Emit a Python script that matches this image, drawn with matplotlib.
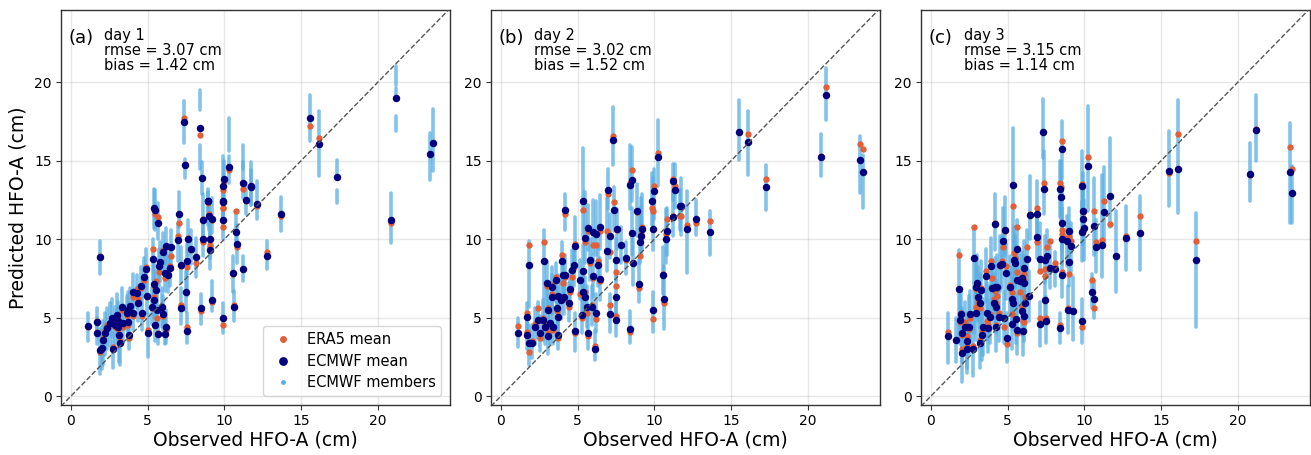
import matplotlib
matplotlib.use("Agg")
import matplotlib.pyplot as plt
from matplotlib.lines import Line2D

# values read off the figure, one column of members per observed value
# --- day 1 ---
obs_a = [1.13,1.67,1.72,1.89,1.89,2.0,2.11,2.22,2.33,2.54,
         2.65,2.87,2.98,3.09,3.3,3.2,2.76,3.09,3.37,3.63,
         3.74,3.85,3.74,3.78,3.15,4.02,4.02,4.28,4.39,4.54,
         4.61,4.98,4.78,4.89,5.37,5.41,5.54,5.26,5.43,5.59,
         5.91,6.02,6.2,5.5,5.0,5.67,6.15,7.54,7.15,7.5,
         6.02,6.17,6.5,5.8,5.76,6.13,6.46,6.35,7.15,7.54,
         7.85,8.15,7.61,6.96,7.02,5.5,5.41,5.67,8.59,8.91,
         9.02,9.17,8.59,9.09,9.09,9.93,9.93,10.76,10.8,10.54,
         11.24,10.65,9.22,8.46,9.89,7.35,8.43,7.41,8.57,8.9,
         10.28,10.0,9.9,11.2,11.7,11.4,11.74,12.11,12.76,13.67,
         9.9,15.56,16.15,17.32,20.85,21.2,23.41,23.56]
ecmwf_a = [4.45,4.0,4.7,8.87,2.93,3.04,3.57,4.0,4.32,4.64,
           4.96,4.53,5.17,4.43,5.7,3.36,2.98,4.81,4.64,5.28,
           5.49,5.74,4.74,3.89,3.89,5.28,6.66,6.55,5.91,7.02,
           5.28,6.38,7.57,8.09,8.72,7.13,6.77,5.7,6.13,5.49,
           5.7,5.23,4.4,4.51,4.02,3.96,3.96,4.17,5.62,6.66,
           9.15,9.57,9.47,8.57,8.26,7.87,8.15,7.72,8.34,8.6,
           9.4,8.85,10.02,9.96,11.6,11.87,11.98,11.04,11.23,12.4,
           11.49,11.3,10.0,10.0,9.3,11.23,12.34,10.47,9.7,7.81,
           8.09,5.7,6.13,5.6,4.96,17.47,17.1,14.7,13.9,12.4,
           14.6,13.8,13.4,13.6,13.3,12.5,13.36,12.23,8.94,11.62,
           12.4,17.72,16.08,13.94,11.21,19.0,15.45,16.15]
era5_a = [4.4,4.1,4.8,8.95,2.8,3.0,3.7,4.2,4.5,4.5,
          4.8,4.4,5.0,4.3,5.5,3.5,3.1,4.9,4.4,5.1,
          5.3,5.5,4.5,3.7,3.8,5.1,6.3,6.8,6.2,6.9,
          5.1,6.3,7.4,8.2,9.4,7.0,7.3,5.6,6.3,5.0,
          5.6,5.1,4.2,4.5,4.2,4.0,4.0,4.4,5.8,6.6,
          9.3,9.5,8.9,8.5,7.9,7.5,8.3,7.8,8.3,8.2,
          9.3,8.45,10.1,10.2,11.0,11.6,11.9,11.4,11.3,12.4,
          11.6,11.2,9.8,9.6,9.5,10.8,12.0,11.8,9.5,7.8,
          8.1,5.8,6.0,5.4,4.5,17.74,16.66,14.8,13.9,12.3,
          14.4,13.7,13.1,13.2,13.3,12.4,13.4,12.1,9.15,11.5,
          12.0,17.2,16.45,13.94,11.02,19.0,15.45,16.15]
low_a = [3.5,3.3,3.9,7.8,1.4,1.7,2.0,2.6,3.0,3.2,
         3.8,3.3,3.9,3.2,4.6,2.0,1.8,3.5,3.4,4.2,
         4.4,4.7,3.6,3.0,2.2,4.2,5.6,5.6,4.8,5.8,
         4.2,5.3,6.4,6.9,7.4,6.0,5.6,4.6,5.0,4.4,
         4.4,4.2,3.4,3.5,2.5,3.3,3.3,3.4,4.6,5.4,
         7.9,8.4,8.3,7.3,7.0,6.7,7.0,6.6,7.2,6.4,
         8.4,7.6,9.0,8.6,10.8,10.6,10.7,10.0,10.2,10.9,
         10.6,10.4,8.9,8.8,8.1,10.0,11.2,9.6,8.5,6.6,
         7.3,4.8,5.4,4.6,4.0,16.1,14.5,13.9,12.9,11.5,
         13.6,12.3,12.2,12.6,12.2,11.6,12.2,11.3,8.1,10.5,
         11.3,16.23,14.0,14.0,9.74,19.0,13.79,14.32]
high_a = [5.3,5.0,5.6,9.85,4.3,4.4,4.8,5.3,5.6,5.9,
          6.2,5.7,6.5,5.6,6.9,4.6,4.0,6.0,5.8,6.4,
          6.6,6.9,5.8,5.0,5.0,6.5,7.8,7.7,7.0,8.2,
          6.4,7.5,8.8,9.4,10.0,8.4,8.0,6.9,7.3,6.8,
          6.9,6.4,5.5,5.8,5.2,5.0,5.0,5.3,6.9,8.0,
          10.4,10.7,10.6,9.8,9.4,9.1,9.4,8.9,9.5,9.7,
          10.6,10.1,11.2,11.0,13.0,13.1,13.2,12.3,12.9,13.0,
          12.5,12.6,11.0,11.2,10.4,12.4,13.6,11.8,10.9,8.9,
          8.9,6.7,7.3,6.5,5.9,18.8,16.0,15.1,14.9,13.2,
          15.3,15.0,15.3,14.9,14.4,13.6,14.9,13.7,9.9,12.7,
          13.4,19.2,18.15,15.06,12.94,19.64,16.77,18.26]
# day 1 columns that are split in two or three pieces
extra_x_a = [8.43,10.28,17.32,21.2,21.2,11.24]
extra_low_a = [18.25,15.6,12.3,19.85,16.87,14.5]
extra_high_a = [19.5,17.7,13.15,21.0,17.83,16.0]

# --- day 2 ---
obs_b = [1.11,1.85,2.83,1.67,1.67,1.85,2.0,2.22,2.43,2.54,
         2.76,2.87,3.09,3.2,3.09,3.37,3.63,3.74,3.74,3.02,
         3.3,3.59,3.3,3.7,3.91,4.11,4.02,4.17,3.96,4.17,
         4.5,4.46,4.61,4.76,4.85,5.15,5.37,5.5,5.65,5.8,
         5.37,5.48,5.59,5.91,6.02,6.17,6.46,6.35,6.02,6.2,
         6.46,4.83,5.26,5.65,6.13,7.11,6.93,7.11,6.98,7.33,
         7.39,7.5,7.48,7.5,7.59,7.8,8.15,8.41,8.59,8.57,
         8.41,8.52,8.89,9.07,9.11,8.98,9.2,9.89,9.93,10.0,
         9.87,10.26,10.54,10.63,10.76,10.8,11.2,11.35,11.24,11.67,
         5.37,11.74,12.11,12.74,13.65,15.54,16.13,17.28,20.83,21.2,
         23.39,23.56]
ecmwf_b = [4.02,8.36,8.6,5.06,3.91,3.36,3.36,4.43,4.85,4.0,
           4.85,4.43,5.49,4.64,3.83,4.43,5.6,5.06,3.89,7.19,
           6.94,7.4,6.34,6.4,6.09,6.34,7.72,7.72,8.6,11.83,
           6.81,5.96,8.04,8.32,9.53,7.4,8.0,10.04,10.7,8.64,
           6.6,6.34,5.7,5.7,7.62,5.32,7.45,8.36,10.43,10.34,
           10.77,4.13,5.17,4.0,3.02,5.23,9.23,10.17,13.15,16.34,
           11.87,8.68,6.3,4.85,10.64,9.62,8.77,4.28,8.49,10.38,
           13.47,13.79,11.79,9.79,10.21,7.13,10.64,5.47,10.66,13.09,
           12.4,15.23,7.72,6.21,10.0,10.49,11.38,13.11,13.68,12.13,
           12.4,12.09,10.64,11.3,10.47,16.83,16.17,13.3,15.26,19.19,
           15.02,14.28]
era5_b = [4.49,9.6,9.8,5.3,4.1,2.83,3.5,4.6,5.6,3.7,
          5.0,4.6,5.6,4.4,4.0,4.2,5.4,5.1,3.7,7.0,
          7.1,7.6,6.5,6.3,6.3,6.2,7.2,7.6,9.0,11.6,
          6.6,5.7,7.6,8.2,9.7,6.5,8.0,9.8,10.5,8.5,
          6.4,6.6,5.3,5.8,7.5,4.9,7.3,8.6,9.6,9.6,
          10.5,4.0,5.0,3.8,3.2,5.8,10.5,9.2,12.9,16.6,
          12.36,7.9,7.0,5.1,10.6,9.6,8.7,4.1,8.5,10.4,
          13.6,14.4,11.7,8.9,10.3,6.9,10.8,4.9,11.8,13.4,
          12.0,15.5,7.8,5.9,10.3,11.3,11.5,13.4,13.8,11.5,
          11.83,11.49,10.9,11.02,11.17,16.83,16.68,13.83,15.32,19.7,
          16.04,15.74]
low_b = [3.15,5.7,5.7,3.9,3.0,2.0,2.4,3.3,3.7,2.9,
         3.6,3.3,4.3,3.4,2.7,3.3,4.4,3.9,3.0,5.8,
         5.7,6.0,5.2,5.2,4.9,5.2,6.2,6.5,7.3,10.6,
         5.6,4.8,6.8,7.0,8.3,6.2,6.6,8.5,9.3,7.4,
         5.3,5.1,4.4,4.5,6.3,4.1,6.1,7.0,9.1,9.0,
         9.4,2.9,4.0,3.0,2.3,4.1,8.0,8.8,11.9,14.7,
         10.5,7.4,5.0,3.8,9.4,8.5,7.8,3.4,7.1,9.0,
         11.9,12.4,10.2,8.5,8.9,6.0,9.3,4.1,9.3,11.3,
         10.9,13.4,6.5,4.3,8.5,9.0,10.2,12.0,12.5,10.6,
         10.2,10.28,7.83,10.28,9.0,15.06,14.1,11.87,14.0,17.62,
         12.94,11.98]
high_b = [4.96,9.85,10.6,5.9,5.0,4.5,4.5,5.6,6.0,5.1,
          6.1,5.6,6.9,6.0,5.0,5.7,6.9,6.3,5.1,8.6,
          8.2,8.5,7.7,7.7,7.4,7.6,8.9,9.0,9.8,12.9,
          8.0,7.2,9.3,9.6,11.4,8.7,9.6,13.0,12.2,10.0,
          7.9,7.6,7.0,7.0,9.0,6.5,8.8,9.7,12.5,12.4,
          12.8,5.3,6.4,5.2,4.2,6.5,12.6,11.6,14.5,18.4,
          13.3,10.0,7.6,6.0,11.9,10.8,9.8,5.4,10.0,12.0,
          16.0,15.9,13.5,12.0,12.6,8.7,12.9,6.6,13.9,14.5,
          14.2,17.6,9.5,8.3,11.9,12.0,13.0,14.8,14.8,13.1,
          15.8,13.89,13.04,12.51,11.77,18.89,18.15,14.74,16.68,20.9,
          16.55,15.38]

# --- day 3 ---
obs_c = [1.09,1.85,2.8,1.93,1.89,2.0,1.63,2.0,2.22,2.37,
         2.5,2.33,2.76,2.54,2.91,2.98,3.26,3.09,3.2,2.91,
         3.2,3.3,3.41,3.7,3.63,3.85,3.57,3.89,3.96,4.17,
         4.33,4.11,4.24,4.24,4.15,4.83,4.7,4.5,4.61,4.91,
         4.78,4.46,4.93,5.15,5.26,5.37,5.54,5.28,5.59,5.98,
         5.33,5.63,5.41,5.48,6.07,6.28,5.59,5.91,6.07,5.8,
         6.15,5.91,6.07,6.43,6.41,6.93,6.89,7.09,7.37,7.3,
         7.54,7.46,7.76,8.09,7.46,7.48,7.09,8.39,8.52,8.39,
         8.48,8.54,8.57,8.57,8.85,9.0,9.13,9.02,8.96,9.24,
         9.85,9.83,9.91,9.89,9.87,10.22,9.98,10.52,10.63,10.65,
         10.74,11.17,11.28,11.67,12.07,12.7,13.63,15.52,16.09,17.26,
         20.8,21.15,23.37,23.52]
ecmwf_c = [3.81,6.81,8.77,5.23,4.85,2.72,3.57,4.0,4.43,3.53,
           4.43,2.98,2.98,5.21,5.28,7.23,6.77,6.34,5.91,6.98,
           3.36,3.89,4.43,4.32,5.28,5.06,7.66,8.3,6.87,6.98,
           6.98,5.91,5.66,4.43,10.94,10.55,9.89,8.36,8.43,7.87,
           4.96,5.06,3.68,6.98,6.19,5.91,4.91,4.6,4.21,4.17,
           13.47,9.36,8.68,8.47,8.15,8.74,7.4,7.51,7.19,7.3,
           5.91,5.45,5.11,11.55,6.38,11.6,10.11,8.72,13.17,16.85,
           8.94,8.68,8.19,8.11,6.09,4.77,4.62,4.32,7.72,13.21,
           12.66,15.74,11.02,10.0,9.85,10.53,9.53,8.57,5.49,5.45,
           4.77,10.43,11.3,11.81,13.4,14.66,10.7,6.62,6.17,10.85,
           9.49,9.6,11.7,12.72,8.94,10.06,10.38,14.36,14.47,8.66,
           14.15,16.96,14.3,12.94]
era5_c = [4.1,8.96,10.8,5.3,4.7,3.0,3.6,3.9,4.7,3.8,
          4.3,3.2,3.2,5.0,5.7,7.0,6.9,6.0,5.6,6.8,
          3.6,4.1,4.3,4.5,4.8,5.2,8.0,8.6,7.5,6.7,
          6.4,6.2,5.9,4.5,11.0,10.5,9.5,8.3,8.6,8.3,
          4.4,5.3,3.3,7.1,6.6,6.0,4.9,5.2,4.0,4.8,
          12.1,10.8,9.1,8.8,7.8,9.5,7.9,7.6,7.4,6.6,
          6.3,5.7,4.7,11.6,6.4,12.0,9.8,8.0,13.6,16.8,
          9.5,8.1,9.89,8.5,7.68,5.0,5.0,4.5,7.9,13.6,
          13.3,16.24,10.3,10.6,10.1,10.2,9.9,7.8,5.6,5.4,
          4.4,10.5,10.5,11.7,13.5,15.26,10.7,7.4,5.6,11.8,
          9.8,9.96,12.45,10.96,8.94,10.17,11.45,14.2,16.7,9.9,
          14.1,17.04,15.9,14.45]
low_c = [2.1,3.6,4.0,3.6,3.3,0.9,2.2,2.2,2.7,1.8,
         2.7,1.5,1.3,3.6,3.6,5.5,5.2,4.8,4.3,5.3,
         1.8,2.3,2.6,2.8,3.6,3.4,6.0,6.6,5.2,5.3,
         5.3,4.3,4.0,2.9,9.3,9.0,8.3,6.7,6.9,6.2,
         3.4,3.5,2.2,5.3,4.6,4.3,3.4,3.0,2.7,2.6,
         9.0,7.8,7.0,6.9,6.4,7.2,5.8,5.9,5.5,5.6,
         4.3,3.9,3.5,10.0,4.8,9.9,8.8,8.0,11.6,15.2,
         7.6,7.2,6.9,7.0,4.8,3.4,3.2,3.4,6.3,11.4,
         11.0,13.8,9.4,8.4,8.3,9.0,7.9,7.0,4.0,3.6,
         3.4,8.6,9.6,10.2,11.4,11.8,8.7,5.6,5.0,9.0,
         7.9,7.6,9.5,10.8,6.66,8.04,8.04,12.09,11.66,4.43,
         12.4,14.96,11.02,11.02]
high_c = [5.3,9.3,10.8,6.9,6.4,4.6,5.0,5.6,6.0,5.3,
          6.4,4.7,4.7,6.7,7.1,9.0,8.6,8.2,7.8,8.8,
          5.2,5.6,6.2,6.1,7.2,7.0,9.4,10.1,8.6,8.8,
          9.0,7.8,7.4,6.3,12.9,12.7,12.0,10.2,10.2,9.7,
          6.7,6.7,5.3,8.9,8.2,7.9,6.5,6.2,5.8,5.7,
          17.1,11.2,10.8,10.2,9.9,10.6,9.0,9.2,8.9,9.0,
          7.4,7.1,6.7,14.0,8.0,13.7,11.8,11.0,15.6,18.9,
          10.6,10.2,9.6,9.2,7.5,6.3,6.0,5.3,10.0,15.0,
          15.0,17.5,13.0,12.0,11.5,12.0,11.0,10.0,7.0,7.6,
          6.2,12.4,13.6,14.2,15.6,18.5,12.5,7.8,7.3,13.9,
          11.2,14.1,14.6,16.45,11.77,12.09,12.72,16.87,18.89,11.66,
          16.13,19.2,17.4,14.64]

panel_tags = ["(a)", "(b)", "(c)"]
panel_days = ["day 1", "day 2", "day 3"]
rmse_vals = [3.07, 3.02, 3.15]
bias_vals = [1.42, 1.52, 1.14]
obs_all = [obs_a, obs_b, obs_c]
ecmwf_all = [ecmwf_a, ecmwf_b, ecmwf_c]
era5_all = [era5_a, era5_b, era5_c]
low_all = [low_a, low_b, low_c]
high_all = [high_a, high_b, high_c]
ticks = [0, 5, 10, 15, 20]

W, H = 1311, 455
member_col = "#5aaee2"
era5_col = "#e0603a"
ecmwf_col = "#00007f"

fig = plt.figure(figsize=(W / 100, H / 100), dpi=100)
lefts = [61, 491, 921]
lims_x = (-0.65, 24.7)
lims_y = (-0.57, 24.6)

for i in range(3):
    ax = fig.add_axes([lefts[i] / W, 50 / H, 389 / W, 395 / H])
    ax.vlines(obs_all[i], low_all[i], high_all[i], color=member_col, lw=2.6,
              alpha=0.75, capstyle="round", zorder=2)
    if i == 0:
        ax.vlines(extra_x_a, extra_low_a, extra_high_a, color=member_col, lw=2.6,
                  alpha=0.75, capstyle="round", zorder=2)
    ax.scatter(obs_all[i], era5_all[i], s=21, color=era5_col, linewidths=0, zorder=3)
    ax.scatter(obs_all[i], ecmwf_all[i], s=29, color=ecmwf_col, linewidths=0, zorder=4)
    ax.plot([lims_x[0], lims_x[1]], [lims_x[0], lims_x[1]], color="#555555", ls="--",
            lw=1, zorder=5)

    ax.set_xlim(lims_x)
    ax.set_ylim(lims_y)
    ax.set_xticks(ticks)
    ax.set_yticks(ticks)
    ax.tick_params(labelsize=10, length=3.5, width=0.8, pad=3, color="#333333")
    ax.grid(True, color="#888888", alpha=0.2, lw=1)
    ax.set_axisbelow(True)
    for s in ax.spines.values():
        s.set_color("#333333")
        s.set_linewidth(1)
    ax.set_xlabel("Observed HFO-A (cm)", fontsize=13.5, labelpad=2)
    if i == 0:
        ax.set_ylabel("Predicted HFO-A (cm)", fontsize=13.5, labelpad=5)

    ax.text(0.02, 0.93, panel_tags[i], transform=ax.transAxes, fontsize=13, va="center")
    ax.text(0.111, 0.955, f"{panel_days[i]}\nrmse = {rmse_vals[i]:.2f} cm\nbias = {bias_vals[i]:.2f} cm",
            transform=ax.transAxes, fontsize=10.5, va="top", linespacing=1.02)

    if i == 0:
        handles = [
            Line2D([], [], ls="", marker="o", ms=5, mfc=era5_col, mec="none", label="ERA5 mean"),
            Line2D([], [], ls="", marker="o", ms=6.3, mfc=ecmwf_col, mec="none", label="ECMWF mean"),
            Line2D([], [], ls="", marker="o", ms=3.5, mfc=member_col, mec="none", label="ECMWF members"),
        ]
        ax.legend(handles=handles, loc="lower right", fontsize=10.5, framealpha=0.8,
                  borderaxespad=0.6, handletextpad=0.6, labelspacing=0.45)

fig.savefig("out.png", dpi=100)
